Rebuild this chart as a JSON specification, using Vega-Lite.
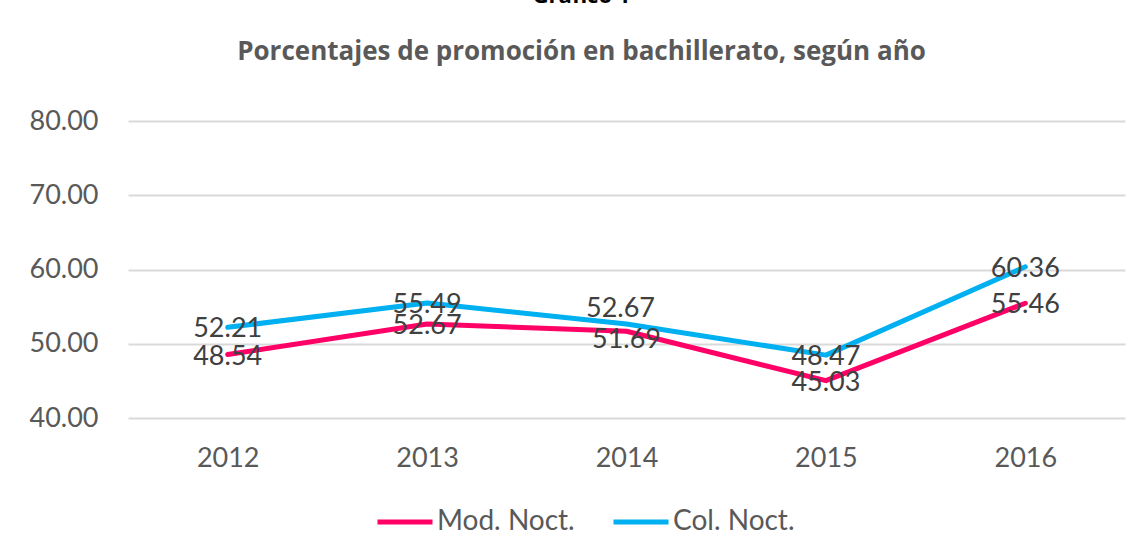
{
  "$schema": "https://vega.github.io/schema/vega-lite/v6.json",
  "autosize": "none",
  "width": 997,
  "height": 297,
  "padding": {"left": 128, "top": 121, "right": 20, "bottom": 140},
  "background": "white",
  "title": {
    "text": "Gráfico 1",
    "subtitle": "Porcentajes de promoción en bachillerato, según año",
    "anchor": "middle",
    "frame": "group",
    "dx": -45,
    "font": "Open Sans",
    "fontSize": 22,
    "fontWeight": "bold",
    "color": "#000000",
    "subtitleFont": "Open Sans",
    "subtitleFontSize": 26,
    "subtitleFontWeight": "bold",
    "subtitleColor": "#595959",
    "subtitlePadding": 31,
    "offset": 41
  },
  "config": {
    "view": {"stroke": null},
    "font": "Lato"
  },
  "data": {
    "values": [
      {"year": "2012", "serie": "Mod. Noct.", "value": 48.54},
      {"year": "2013", "serie": "Mod. Noct.", "value": 52.67},
      {"year": "2014", "serie": "Mod. Noct.", "value": 51.69},
      {"year": "2015", "serie": "Mod. Noct.", "value": 45.03},
      {"year": "2016", "serie": "Mod. Noct.", "value": 55.46},
      {"year": "2012", "serie": "Col. Noct.", "value": 52.21},
      {"year": "2013", "serie": "Col. Noct.", "value": 55.49},
      {"year": "2014", "serie": "Col. Noct.", "value": 52.67},
      {"year": "2015", "serie": "Col. Noct.", "value": 48.47},
      {"year": "2016", "serie": "Col. Noct.", "value": 60.36}
    ]
  },
  "encoding": {
    "x": {
      "field": "year",
      "type": "ordinal",
      "scale": {"type": "point", "padding": 0.5},
      "axis": {
        "title": null,
        "labelAngle": 0,
        "domain": false,
        "ticks": false,
        "labelFont": "Lato",
        "labelFontSize": 27,
        "labelColor": "#595959",
        "labelPadding": 27
      }
    },
    "y": {
      "field": "value",
      "type": "quantitative",
      "scale": {"domain": [40, 80], "nice": false, "zero": false},
      "axis": {
        "title": null,
        "values": [40, 50, 60, 70, 80],
        "format": ".2f",
        "domain": false,
        "ticks": false,
        "grid": true,
        "gridColor": "#D9D9D9",
        "gridWidth": 2,
        "labelFont": "Lato",
        "labelFontSize": 27,
        "labelColor": "#595959",
        "labelPadding": 30
      }
    }
  },
  "layer": [
    {
      "mark": {"type": "line", "strokeWidth": 5, "strokeCap": "round", "strokeJoin": "round"},
      "encoding": {
        "color": {
          "field": "serie",
          "type": "nominal",
          "sort": ["Mod. Noct.", "Col. Noct."],
          "scale": {"domain": ["Mod. Noct.", "Col. Noct."], "range": ["#FF0066", "#00B0F0"]},
          "legend": {
            "title": null,
            "orient": "none",
            "direction": "horizontal",
            "legendX": 247,
            "legendY": 371,
            "symbolType": "stroke",
            "symbolSize": 3025,
            "symbolStrokeWidth": 5,
            "labelFont": "Lato",
            "labelFontSize": 28,
            "labelColor": "#595959",
            "labelOffset": 2,
            "columnPadding": 28
          }
        }
      }
    },
    {
      "transform": [{"filter": "datum.year != '2014'"}],
      "mark": {"type": "text", "font": "Lato", "fontSize": 27, "color": "#404040", "baseline": "middle", "dy": 2},
      "encoding": {"text": {"field": "value", "type": "quantitative", "format": ".2f"}}
    },
    {
      "transform": [{"filter": "datum.year == '2014' && datum.serie == 'Col. Noct.'"}],
      "mark": {"type": "text", "font": "Lato", "fontSize": 27, "color": "#404040", "baseline": "middle", "dy": -15, "dx": -6},
      "encoding": {"text": {"field": "value", "type": "quantitative", "format": ".2f"}}
    },
    {
      "transform": [{"filter": "datum.year == '2014' && datum.serie == 'Mod. Noct.'"}],
      "mark": {"type": "text", "font": "Lato", "fontSize": 27, "color": "#404040", "baseline": "middle", "dy": 9},
      "encoding": {"text": {"field": "value", "type": "quantitative", "format": ".2f"}}
    }
  ]
}
